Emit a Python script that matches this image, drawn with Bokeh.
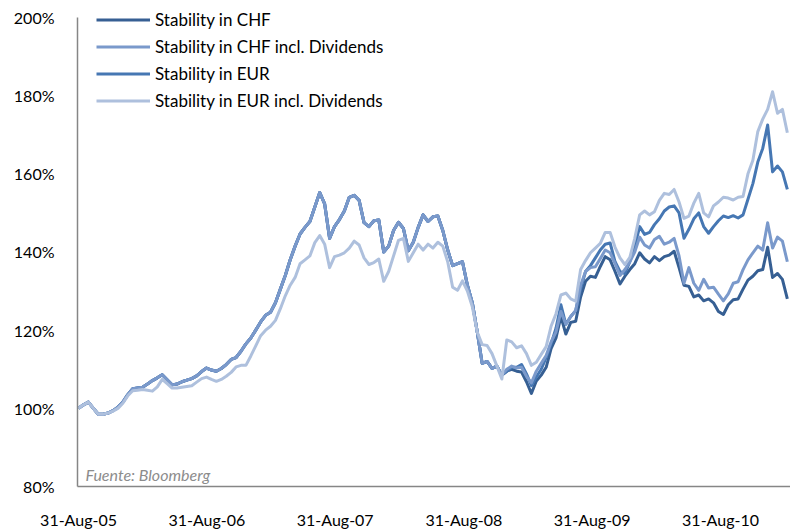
import pandas as pd
from bokeh.plotting import figure
from bokeh.models import (Range1d, FixedTicker, DatetimeTickFormatter, PrintfTickFormatter,
                          Legend, LegendItem, Label)
from bokeh.embed import file_html
from bokeh.resources import INLINE

# ---- data (% of start value, fortnightly) ----
dates = pd.date_range("2005-08-31", periods=145, freq="14D")

chf = [100.0, 100.9, 101.6, 100.0, 98.5, 98.5, 98.8, 99.4, 100.3, 101.6,
       103.5, 105.0, 105.2, 105.4, 106.2, 107.1, 107.8, 108.6, 107.3, 106.0,
       106.2, 106.8, 107.2, 107.6, 108.3, 109.4, 110.3, 109.8, 109.5, 110.2,
       111.2, 112.5, 113.0, 114.6, 116.5, 118.0, 120.0, 122.1, 123.8, 124.6,
       127.0, 130.5, 134.0, 138.0, 141.5, 144.6, 146.3, 147.8, 151.5, 155.2,
       152.3, 143.5, 146.5, 148.3, 150.5, 154.0, 154.5, 153.2, 147.5, 146.5,
       148.0, 148.2, 140.0, 141.5, 145.5, 147.6, 146.0, 140.3, 142.5, 146.3,
       149.5, 147.8, 149.0, 149.2, 145.5, 140.5, 136.5, 137.0, 137.5, 131.5,
       127.0, 119.5, 111.5, 112.0, 110.2, 110.8,
       108.5, 109.5, 110.0, 109.5, 109.3, 106.8, 103.8, 107.0, 108.5, 110.5,
       115.3, 118.0, 123.5, 119.0, 122.0, 122.3, 128.5, 132.5, 133.8, 133.5,
       136.3, 138.8, 138.0, 135.0, 131.8, 133.8, 135.5, 137.0, 139.8, 138.2,
       137.2, 138.8, 137.8, 138.8, 139.2, 140.2, 136.0, 131.5, 131.2, 128.5,
       129.0, 127.5, 128.0, 127.0, 124.8, 124.0, 126.5, 127.8, 128.0, 130.5,
       132.8, 133.8, 135.2, 135.5, 141.2, 133.5, 134.5, 133.0, 128.0]

chf_div = [100.0, 100.9, 101.6, 100.0, 98.5, 98.5, 98.8, 99.4, 100.3, 101.6,
           103.5, 105.0, 105.2, 105.4, 106.2, 107.1, 107.8, 108.6, 107.3, 106.0,
           106.2, 106.8, 107.2, 107.6, 108.3, 109.4, 110.3, 109.8, 109.5, 110.2,
           111.2, 112.5, 113.0, 114.6, 116.5, 118.0, 120.0, 122.1, 123.8, 124.6,
           127.0, 130.5, 134.0, 138.0, 141.5, 144.6, 146.3, 147.8, 151.5, 155.2,
           152.3, 143.5, 146.5, 148.3, 150.5, 154.0, 154.5, 153.2, 147.5, 146.5,
           148.0, 148.2, 140.0, 141.5, 145.5, 147.6, 146.0, 140.3, 142.5, 146.3,
           149.5, 147.8, 149.0, 149.2, 145.5, 140.5, 136.5, 137.0, 137.5, 131.5,
           127.0, 119.5, 111.5, 112.0, 110.2, 110.8,
           108.5, 110.0, 110.8, 110.3, 110.5, 108.2, 106.5, 109.5, 111.5, 113.5,
           117.0, 119.5, 124.8, 121.5, 123.5, 125.0, 131.5, 135.0, 136.0, 136.2,
           138.3, 140.5, 139.8, 137.0, 134.0, 135.5, 137.5, 140.0, 143.8, 141.8,
           141.0, 143.2, 144.0, 142.0, 142.5, 143.5, 139.0, 132.0, 136.0, 132.0,
           130.2, 133.0, 130.8, 131.0, 129.2, 127.5, 129.3, 132.0, 132.4, 135.5,
           138.0, 139.8, 141.5, 140.5, 147.5, 141.0, 143.8, 142.8, 137.5]

eur = [100.0, 100.9, 101.6, 100.0, 98.5, 98.5, 98.8, 99.4, 100.3, 101.6,
       103.5, 105.0, 105.2, 105.4, 106.2, 107.1, 107.8, 108.6, 107.3, 106.0,
       106.2, 106.8, 107.2, 107.6, 108.3, 109.4, 110.3, 109.8, 109.5, 110.2,
       111.2, 112.5, 113.0, 114.6, 116.5, 118.0, 120.0, 122.1, 123.8, 124.6,
       127.0, 130.5, 134.0, 138.0, 141.5, 144.6, 146.3, 147.8, 151.5, 155.2,
       152.3, 143.5, 146.5, 148.3, 150.5, 154.0, 154.5, 153.2, 147.5, 146.5,
       148.0, 148.2, 140.0, 141.5, 145.5, 147.6, 146.0, 140.3, 142.5, 146.3,
       149.5, 147.8, 149.0, 149.2, 145.5, 140.5, 136.5, 137.0, 137.5, 131.5,
       127.0, 119.5, 111.5, 112.0, 110.2, 110.8,
       108.5, 109.5, 110.5, 110.5, 111.2, 108.8, 105.8, 108.0, 110.0, 113.0,
       116.5, 120.5, 126.5, 121.5, 123.5, 125.0, 130.5, 135.0, 136.5, 138.5,
       140.5, 142.0, 142.3, 137.5, 135.0, 134.5, 137.5, 141.5, 146.5, 144.5,
       145.0, 147.0, 148.5, 150.5, 151.5, 151.8, 150.0, 143.5, 145.8, 148.5,
       150.0, 146.5, 144.8, 146.5, 148.0, 149.2, 148.8, 149.3, 148.7, 149.5,
       153.5, 157.5, 163.0, 166.5, 172.5, 160.5, 162.0, 160.5, 156.0]

eur_div = [100.0, 100.9, 101.6, 100.0, 98.5, 98.5, 98.8, 99.3, 100.0, 101.3,
           103.2, 104.5, 104.6, 104.8, 104.6, 104.4, 105.5, 107.4, 106.3, 105.2,
           105.2, 105.4, 105.6, 105.8, 106.7, 107.6, 108.0, 107.4, 106.9, 107.4,
           108.2, 109.2, 110.6, 111.0, 111.0, 113.4, 116.0, 118.6, 120.0, 121.0,
           122.5, 125.5, 128.8, 131.5, 133.5, 137.0, 138.0, 139.0, 142.4, 144.2,
           142.0, 136.0, 138.8, 139.2, 139.8, 141.0, 142.8, 141.8, 138.5, 136.8,
           137.3, 138.2, 132.5, 135.0, 139.0, 143.0, 143.5, 137.6, 139.8, 142.0,
           140.5, 142.0, 141.0, 142.5, 141.5, 137.5, 131.0, 130.2, 132.6, 130.0,
           126.0, 119.5, 116.3, 116.1, 114.0, 110.8, 107.5, 117.5, 117.0, 115.5,
           116.0, 114.0, 111.0, 111.8, 113.8, 115.8, 121.0, 124.2, 129.0, 129.5,
           128.0, 127.4, 135.5, 137.8, 139.8, 141.0, 142.2, 145.0, 145.0, 141.2,
           138.5, 136.8, 138.6, 143.5, 149.5, 150.5, 149.5, 150.3, 153.2, 155.0,
           154.7, 156.0, 152.8, 148.6, 149.2, 152.5, 155.0, 150.0, 149.0, 151.8,
           152.8, 154.0, 153.8, 153.3, 154.0, 154.2, 160.0, 163.5, 170.8, 174.0,
           176.5, 181.0, 175.5, 176.5, 170.5]

series_names = ["Stability in CHF", "Stability in CHF incl. Dividends",
                "Stability in EUR", "Stability in EUR incl. Dividends"]
tick_labels_x = ["2005-08-31", "2006-08-31", "2007-08-31", "2008-08-31",
                 "2009-08-31", "2010-08-31"]
y_ticks = [80, 100, 120, 140, 160, 180, 200]
source_note = "Fuente: Bloomberg"

# ---- styling ----
COL_CHF = "#365F93"
COL_CHF_DIV = "#7A99CB"
COL_EUR = "#4677B3"
COL_EUR_DIV = "#AEC0DD"
FONT = "Lato"

x_start = dates[0] - pd.Timedelta(days=3)
x_end = dates[0] + pd.Timedelta(days=2025)

# frame extends a little above 200% so the legend is not clipped;
# the y axis line itself is bounded to 80%..200%
p = figure(width=790, height=531, x_axis_type="datetime",
           output_backend="svg", toolbar_location=None,
           x_range=Range1d(x_start, x_end), y_range=Range1d(80, 202.3),
           min_border_left=77, min_border_right=0, min_border_top=8,
           min_border_bottom=43)

p.xgrid.visible = False
p.ygrid.visible = False
p.outline_line_color = None
p.background_fill_color = "white"
p.border_fill_color = "white"

tick_ms = [int(pd.Timestamp(d).value // 10**6) for d in tick_labels_x]
p.xaxis.ticker = FixedTicker(ticks=tick_ms)
fmt = "%d-%b-%y"
p.xaxis.formatter = DatetimeTickFormatter(
    milliseconds=fmt, seconds=fmt, minsec=fmt, minutes=fmt, hourmin=fmt,
    hours=fmt, days=fmt, months=fmt, years=fmt, context=None)
p.yaxis.ticker = FixedTicker(ticks=y_ticks)
p.yaxis.formatter = PrintfTickFormatter(format="%d%%")
p.yaxis.bounds = (y_ticks[0], y_ticks[-1])

for ax in (p.xaxis[0], p.yaxis[0]):
    ax.axis_line_color = "#868686"
    ax.axis_line_width = 1.5
    ax.major_tick_line_color = None
    ax.minor_tick_line_color = None
    ax.major_tick_out = 0
    ax.major_tick_in = 0
    ax.minor_tick_out = 0
    ax.minor_tick_in = 0
    ax.major_label_text_font = FONT
    ax.major_label_text_color = "#000000"
p.yaxis.major_label_text_font_size = "16px"
p.yaxis.major_label_standoff = 23
p.xaxis.major_label_text_font_size = "16px"
p.xaxis.major_label_standoff = 23

r_chf = p.line(dates, chf, line_color=COL_CHF, line_width=3, line_join="round")
r_eur = p.line(dates, eur, line_color=COL_EUR, line_width=3, line_join="round")
r_chf_div = p.line(dates, chf_div, line_color=COL_CHF_DIV, line_width=3, line_join="round")
r_eur_div = p.line(dates, eur_div, line_color=COL_EUR_DIV, line_width=3, line_join="round")

legend = Legend(items=[LegendItem(label=series_names[0], renderers=[r_chf]),
                       LegendItem(label=series_names[1], renderers=[r_chf_div]),
                       LegendItem(label=series_names[2], renderers=[r_eur]),
                       LegendItem(label=series_names[3], renderers=[r_eur_div])],
                location=(19, 375), border_line_color=None,
                background_fill_alpha=0, label_text_font=FONT,
                label_text_font_size="17px", label_text_color="#000000",
                glyph_width=54, glyph_height=21, label_height=21,
                spacing=6, padding=0, margin=0, label_standoff=5)
p.add_layout(legend)

note = Label(x=dates[0], y=80, x_offset=7, y_offset=3, text=source_note,
             text_font=FONT, text_font_style="italic", text_font_size="16px",
             text_color="#8C8C8C", text_baseline="bottom")
p.add_layout(note)

open("out.html", "w").write(file_html(p, INLINE))
